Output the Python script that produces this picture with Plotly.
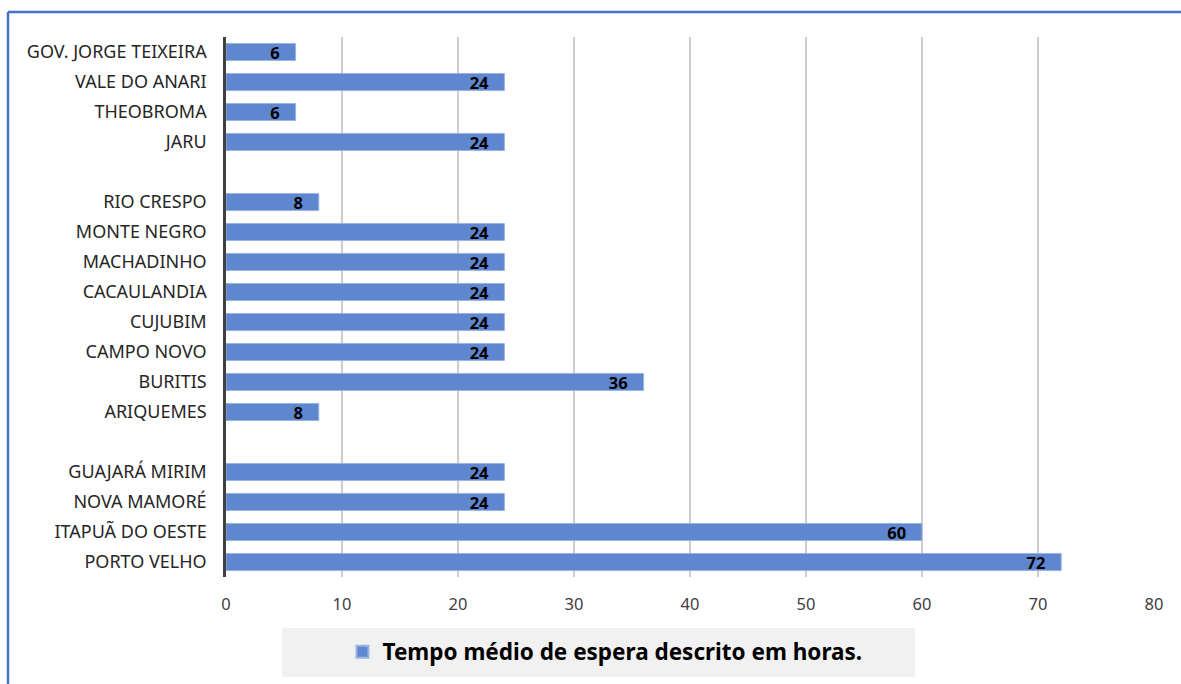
import plotly.graph_objects as go

categories = ["GOV. JORGE TEIXEIRA", "VALE DO ANARI", "THEOBROMA", "JARU", " ",
              "RIO CRESPO", "MONTE NEGRO", "MACHADINHO", "CACAULANDIA", "CUJUBIM",
              "CAMPO NOVO", "BURITIS", "ARIQUEMES", "  ",
              "GUAJARÁ MIRIM", "NOVA MAMORÉ", "ITAPUÃ DO OESTE", "PORTO VELHO"]
values = [6, 24, 6, 24, None, 8, 24, 24, 24, 24, 24, 36, 8, None, 24, 24, 60, 72]
series_name = "Tempo médio de espera descrito em horas."
x_ticks = [0, 10, 20, 30, 40, 50, 60, 70, 80]

pad = "\u00a0\u00a0\u00a0"
labels = ["" if v is None else str(v) + pad for v in values]

fig = go.Figure()
fig.add_trace(go.Bar(
    y=categories, x=values, orientation="h", name=series_name,
    marker=dict(color="#5f87cf", line=dict(color="#9bb4e2", width=1)),
    width=0.57,
    text=labels, textposition="inside", insidetextanchor="end", textangle=0,
    constraintext="none",
    textfont=dict(family="Noto Sans", size=16.5, color="#000000", weight="bold"),
    showlegend=True, hoverinfo="skip",
))

W, H = 1181, 684
L, R, T, B = 226, 1154, 37, 577
pw, ph = R - L, B - T

def px(xp):
    return (xp - L) / pw

def py(yp):
    return (B - yp) / ph

shapes = [
    dict(type="line", xref="paper", yref="paper", x0=px(8), x1=px(1190), y0=py(12), y1=py(12),
         line=dict(color="#4472c4", width=2.5)),
    dict(type="line", xref="paper", yref="paper", x0=px(8), x1=px(8), y0=py(12), y1=py(700),
         line=dict(color="#4472c4", width=2.5)),
    dict(type="rect", xref="paper", yref="paper", x0=px(282), x1=px(915), y0=py(628), y1=py(677),
         fillcolor="#f1f1f1", line=dict(width=0), layer="below"),
]

fig.update_layout(
    width=W, height=H,
    margin=dict(l=L, r=W - R, t=T, b=H - B, autoexpand=False),
    paper_bgcolor="white", plot_bgcolor="white",
    font=dict(family="Noto Sans", color="#262626"),
    shapes=shapes,
    xaxis=dict(range=[0, 80], tickvals=x_ticks, showgrid=True, gridcolor="#cdcdcd", gridwidth=1.5,
               zeroline=False, showline=False, ticks="", tickfont=dict(size=16.5, color="#404040"),
               ticklabelstandoff=15, fixedrange=True),
    yaxis=dict(categoryorder="array", categoryarray=categories[::-1], autorange=False,
               range=[-0.5, len(categories) - 0.5],
               showline=True, linecolor="#404040", linewidth=2.5, ticks="",
               tickfont=dict(size=18, color="#262626"), ticklabelstandoff=13, showgrid=False),
    legend=dict(orientation="h", x=px(605), xanchor="center", y=py(652), yanchor="middle",
                font=dict(size=22.5, color="#000000", weight="bold"), bgcolor="rgba(0,0,0,0)",
                itemsizing="constant"),
)

fig.write_html("out.html", config={"displayModeBar": False},
               post_script="document.body.style.margin='0';document.body.style.overflow='hidden';")
